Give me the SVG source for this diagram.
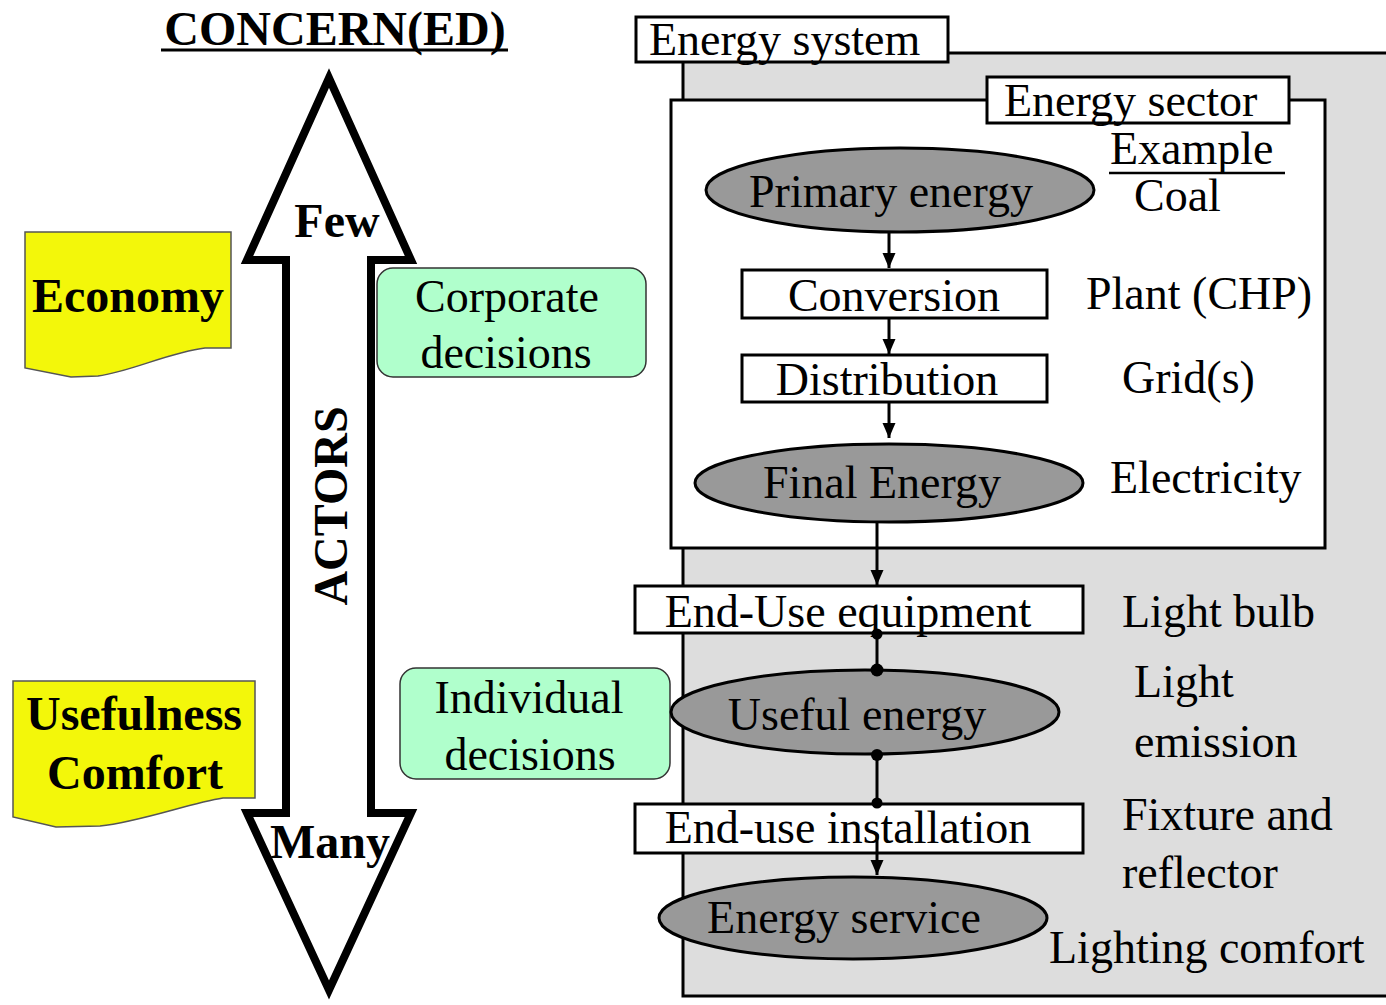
<svg xmlns="http://www.w3.org/2000/svg" width="1386" height="1005" viewBox="0 0 1386 1005">
<style>
text{font-family:"Liberation Serif","Times New Roman",serif;font-size:46px;fill:#000}
.b{font-weight:bold;font-size:48px}
.m{text-anchor:middle}
.lbl{fill:#fff;stroke:#000;stroke-width:3}
.ell{fill:#999;stroke:#000;stroke-width:3}
.note{fill:#f3f70a;stroke:#555;stroke-width:1.5}
.dec{fill:#b0ffcc;stroke:#333;stroke-width:1.5}
.con{stroke:#000;stroke-width:3;fill:none}
</style>
<defs>
<marker id="ah" markerUnits="userSpaceOnUse" markerWidth="16" markerHeight="14" viewBox="0 0 16 14" refX="15" refY="7" orient="auto">
<path d="M0,0.5 L15,7 L0,13.5 Z" fill="#000"/>
</marker>
</defs>
<rect width="1386" height="1005" fill="#fff"/>

<g id="title">
<text class="b m" x="335" y="45">CONCERN(ED)</text>
<line x1="161" y1="50" x2="508" y2="50" stroke="#000" stroke-width="3"/>
</g>

<g id="actors-arrow">
<polygon points="329,78 247,260 286,260 286,813 247,813 329,990 411,813 371,813 371,260 411,260" fill="#fff" stroke="#000" stroke-width="8" stroke-linejoin="miter"/>
<text class="b m" x="337" y="237">Few</text>
<text class="b m" transform="translate(347,506) rotate(-90)">ACTORS</text>
<text class="b m" x="330" y="858">Many</text>
</g>

<g id="economy">
<path class="note" d="M25,232 H231 V348 H205 C170,352 130,372 98,376 L71,377 L25,368 Z"/>
<text class="b m" x="128" y="312">Economy</text>
</g>

<g id="usefulness">
<path class="note" d="M13,681 H255 V798 H223 C190,803 140,822 100,826 L56,827 L13,817 Z"/>
<text class="b m" x="134" y="730">Usefulness</text>
<text class="b m" x="135" y="789">Comfort</text>
</g>

<g id="corporate">
<rect class="dec" x="377" y="268" width="269" height="109" rx="16"/>
<text class="m" x="507" y="312">Corporate</text>
<text class="m" x="506" y="368">decisions</text>
</g>

<g id="individual">
<rect class="dec" x="400" y="668" width="270" height="111" rx="16"/>
<text class="m" x="529" y="713">Individual</text>
<text class="m" x="530" y="770">decisions</text>
</g>

<g id="energy-system">
<rect x="683" y="53" width="720" height="943" fill="#ddd" stroke="#000" stroke-width="3"/>
<rect class="lbl" x="636" y="17" width="312" height="45"/>
<text x="649" y="55">Energy system</text>
</g>

<g id="energy-sector">
<rect x="671" y="100" width="654" height="448" fill="#fff" stroke="#000" stroke-width="3"/>
<rect class="lbl" x="987" y="77" width="302" height="46"/>
<text x="1004" y="116">Energy sector</text>
</g>

<g id="example">
<text x="1110" y="164">Example</text>
<line x1="1109" y1="173" x2="1285" y2="173" stroke="#000" stroke-width="2.5"/>
<text x="1134" y="211">Coal</text>
<text x="1086" y="309">Plant (CHP)</text>
<text x="1122" y="393">Grid(s)</text>
<text x="1110" y="493">Electricity</text>
<text x="1122" y="627">Light bulb</text>
<text x="1134" y="697">Light</text>
<text x="1134" y="757">emission</text>
<text x="1122" y="830">Fixture and</text>
<text x="1122" y="888">reflector</text>
<text x="1049" y="963">Lighting comfort</text>
</g>

<g id="connectors">
<line class="con" x1="889" y1="232" x2="889" y2="268" marker-end="url(#ah)"/>
<line class="con" x1="889" y1="318" x2="889" y2="354" marker-end="url(#ah)"/>
<line class="con" x1="889" y1="402" x2="889" y2="438" marker-end="url(#ah)"/>
<line class="con" x1="877" y1="521" x2="877" y2="585" marker-end="url(#ah)"/>
</g>

<g id="primary-energy">
<ellipse class="ell" cx="900" cy="190" rx="194" ry="42"/>
<text class="m" x="891" y="207">Primary energy</text>
</g>
<g id="conversion">
<rect class="lbl" x="742" y="270" width="305" height="48"/>
<text class="m" x="894" y="311">Conversion</text>
</g>
<g id="distribution">
<rect class="lbl" x="742" y="355" width="305" height="47"/>
<text class="m" x="887" y="395">Distribution</text>
</g>
<g id="final-energy">
<ellipse class="ell" cx="889" cy="483" rx="194" ry="39"/>
<text class="m" x="882" y="498">Final Energy</text>
</g>
<g id="end-use-equipment">
<rect class="lbl" x="635" y="586" width="448" height="47"/>
<text class="m" x="848" y="627">End-Use equipment</text>
</g>
<g id="useful-energy">
<ellipse class="ell" cx="865" cy="712" rx="194" ry="42"/>
<text class="m" x="857" y="730">Useful energy</text>
</g>
<g id="end-use-installation">
<rect class="lbl" x="635" y="804" width="448" height="49"/>
<text class="m" x="848" y="843">End-use installation</text>
</g>
<g id="energy-service">
<ellipse class="ell" cx="853" cy="918" rx="194" ry="41"/>
<text class="m" x="844" y="933">Energy service</text>
</g>

<g id="connectors-lower">
<line class="con" x1="877" y1="633" x2="877" y2="670"/>
<circle cx="877" cy="634" r="5.5"/>
<circle cx="877" cy="670" r="6.5"/>
<line class="con" x1="877" y1="755" x2="877" y2="803"/>
<circle cx="877" cy="755" r="6"/>
<circle cx="877" cy="803" r="5.5"/>
<line class="con" x1="877" y1="834" x2="877" y2="875" marker-end="url(#ah)"/>
</g>
</svg>
